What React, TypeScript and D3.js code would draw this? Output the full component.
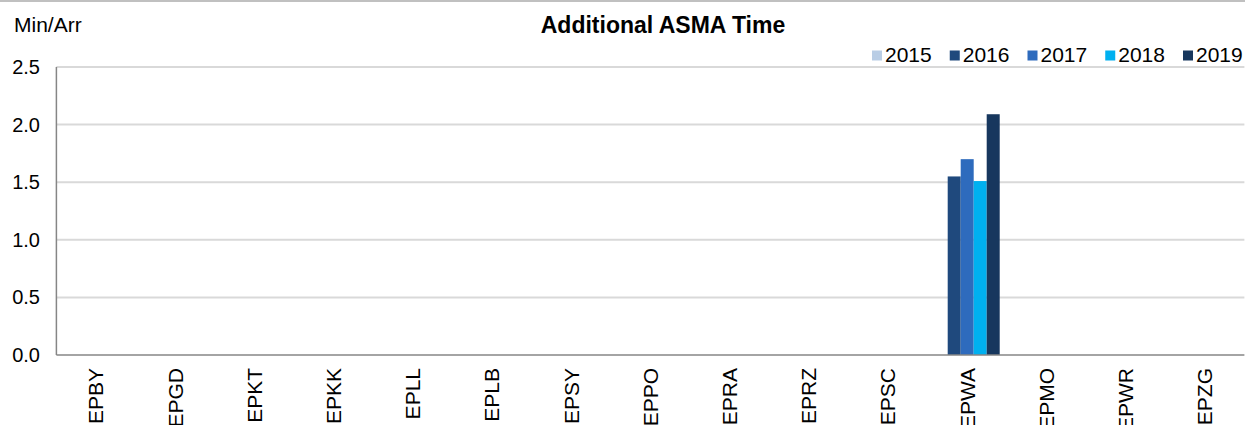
import React from "react";
import * as d3 from "d3";

const categories = ["EPBY", "EPGD", "EPKT", "EPKK", "EPLL", "EPLB", "EPSY", "EPPO", "EPRA", "EPRZ", "EPSC", "EPWA", "EPMO", "EPWR", "EPZG"];
const years = ["2015", "2016", "2017", "2018", "2019"];
const colors = ["#b9cde5", "#1f497d", "#2e6bbd", "#00b0f0", "#17375e"];
const v2015: (number | null)[] = [null, null, null, null, null, null, null, null, null, null, null, null, null, null, null];
const v2016: (number | null)[] = [null, null, null, null, null, null, null, null, null, null, null, 1.55, null, null, null];
const v2017: (number | null)[] = [null, null, null, null, null, null, null, null, null, null, null, 1.70, null, null, null];
const v2018: (number | null)[] = [null, null, null, null, null, null, null, null, null, null, null, 1.51, null, null, null];
const v2019: (number | null)[] = [null, null, null, null, null, null, null, null, null, null, null, 2.09, null, null, null];
const series = [v2015, v2016, v2017, v2018, v2019];
const yTicks = [0, 0.5, 1.0, 1.5, 2.0, 2.5];

const W = 1245;
const H = 425;
const font = "Liberation Sans, Arial, sans-serif";

export default function App() {
  const left = 56.4;
  const right = 1244.4;
  const top = 67;
  const bottom = 355;
  const x = d3.scaleBand<string>().domain(categories).range([left, right]).padding(0);
  const x1 = d3
    .scaleBand<string>()
    .domain(years)
    .range([0, x.bandwidth()])
    .paddingInner(0)
    .paddingOuter(0.546);
  const y = d3.scaleLinear().domain([0, 2.5]).range([bottom, top]);

  return (
    <svg width={W} height={H} style={{ position: "absolute", left: 0, top: 0, background: "#fff" }} fontFamily={font}>
      <rect x={0} y={0} width={W} height={H} fill="#fff" />
      <line x1={0} x2={W} y1={1} y2={1} stroke="#c0c0c0" strokeWidth={2} />
      {yTicks.slice(1).map((t) => (
        <line key={t} x1={left} x2={right} y1={y(t)} y2={y(t)} stroke="#d9d9d9" strokeWidth={2} />
      ))}
      {yTicks.map((t) => (
        <text key={t} x={40} y={y(t)} dy="0.35em" textAnchor="end" fontSize={20} fill="#000">
          {d3.format(".1f")(t)}
        </text>
      ))}
      {series.map((vals, si) =>
        vals.map((v, ci) =>
          v == null ? null : (
            <rect
              key={`${si}-${ci}`}
              x={(x(categories[ci]) as number) + (x1(years[si]) as number)}
              y={y(v)}
              width={x1.bandwidth()}
              height={y(0) - y(v)}
              fill={colors[si]}
            />
          )
        )
      )}
      <line x1={left} x2={left} y1={top} y2={bottom} stroke="#868686" strokeWidth={1.5} />
      <line x1={left} x2={right} y1={bottom} y2={bottom} stroke="#868686" strokeWidth={1.5} />
      {categories.map((c) => {
        const cx = (x(c) as number) + x.bandwidth() / 2;
        return (
          <text
            key={c}
            transform={`translate(${cx},368) rotate(-90)`}
            dy="0.35em"
            textAnchor="end"
            fontSize={21}
            fill="#000"
          >
            {c}
          </text>
        );
      })}
      <text x={14} y={32} fontSize={21} fill="#000">Min/Arr</text>
      <text x={663} y={33} textAnchor="middle" fontSize={23} fontWeight="bold" fill="#000">
        Additional ASMA Time
      </text>
      {years.map((yr, i) => {
        const lx = 872 + i * 77.75;
        return (
          <g key={yr}>
            <rect x={lx} y={50.5} width={10} height={10} fill={colors[i]} />
            <text x={lx + 13} y={62} fontSize={21} fill="#000">{yr}</text>
          </g>
        );
      })}
    </svg>
  );
}
